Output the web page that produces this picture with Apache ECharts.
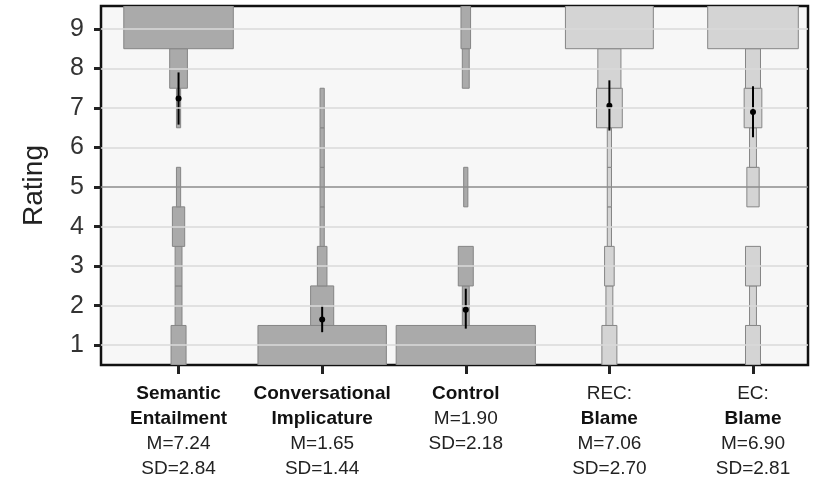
<!DOCTYPE html>
<html>
<head>
<meta charset="utf-8">
<script src="https://cdn.jsdelivr.net/npm/echarts@6/dist/echarts.min.js"></script>
<style>html,body{margin:0;padding:0;background:#fff;}#c{width:815px;height:479px;}</style>
</head>
<body>
<div id="c"></div>
<script>
// ---- data ----
const ratings = [1, 2, 3, 4, 5, 6, 7, 8, 9];
const namePrefix = ['', '', '', 'REC:', 'EC:'];
const categories = ['Semantic\nEntailment', 'Conversational\nImplicature', 'Control', 'Blame', 'Blame'];
const means = [7.24, 1.65, 1.90, 7.06, 6.90];
const sds = [2.84, 1.44, 2.18, 2.70, 2.81];
const ciLow = [6.58, 1.33, 1.42, 6.43, 6.26];
const ciHigh = [7.90, 2.00, 2.43, 7.70, 7.55];
// counts of responses at rating 1..9 for each condition
const countsSE = [5, 2, 2, 4, 1, 0, 1, 6, 40];
const countsCI = [47, 8, 3, 1, 1, 1, 1, 0, 0];
const countsControl = [51, 2, 5, 0, 1, 0, 0, 2, 3];
const countsREC = [5, 2, 3, 1, 1, 1, 9, 8, 32];
const countsEC = [5, 2, 5, 0, 4, 2, 6, 5, 33];
const yTicks = [1, 2, 3, 4, 5, 6, 7, 8, 9];

// ---- build ----
const allCounts = [countsSE, countsCI, countsControl, countsREC, countsEC];
const fills = ['#aaaaaa', '#aaaaaa', '#aaaaaa', '#d4d4d4', '#d4d4d4'];
const X_MIN = 0.46, X_MAX = 5.383, Y_MIN = 0.5, Y_MAX = 9.58;
const UNIT = 2.7 / 143.6; // x-axis units per response
const PAD = 1.5; // extra outline padding in px

const barData = [];
allCounts.forEach((arr, g) => {
  arr.forEach((c, i) => { if (c > 0) barData.push([g + 1, ratings[i], c, g]); });
});
const errData = means.map((m, g) => [g + 1, m, ciLow[g], ciHigh[g]]);

const chart = echarts.init(document.getElementById('c'), null, {renderer: 'canvas'});
const font = '"Liberation Sans", Arial, sans-serif';

chart.setOption({
  backgroundColor: '#ffffff',
  animation: false,
  grid: {left: 101, top: 6, width: 707, height: 359, show: true, backgroundColor: '#f7f7f7', borderColor: '#111', borderWidth: 2.5, containLabel: false},
  xAxis: {
    type: 'value', min: X_MIN, max: X_MAX,
    axisLine: {show: false},
    splitLine: {show: false},
    axisTick: {show: true, customValues: [1, 2, 3, 4, 5], length: 9, lineStyle: {color: '#222', width: 3}},
    axisLabel: {
      show: true, customValues: [1, 2, 3, 4, 5], margin: 16,
      formatter: function (v) {
        const g = Math.round(v) - 1;
        let s = '';
        if (namePrefix[g]) s += '{r|' + namePrefix[g] + '}\n';
        s += categories[g].split('\n').map(t => '{b|' + t + '}').join('\n');
        s += '\n{r|M=' + means[g].toFixed(2) + '}\n{r|SD=' + sds[g].toFixed(2) + '}';
        return s;
      },
      rich: {
        b: {fontFamily: font, fontSize: 19, fontWeight: 'bold', color: '#111', lineHeight: 25, align: 'center'},
        r: {fontFamily: font, fontSize: 19, color: '#222', lineHeight: 25, align: 'center'}
      }
    }
  },
  yAxis: {
    type: 'value', min: Y_MIN, max: Y_MAX,
    name: 'Rating', nameLocation: 'middle', nameRotate: 90, nameGap: 53,
    nameTextStyle: {fontFamily: font, fontSize: 28, color: '#222'},
    axisLine: {show: false},
    splitLine: {show: false},
    axisTick: {show: true, customValues: yTicks, length: 7, lineStyle: {color: '#222', width: 3}},
    axisLabel: {show: true, customValues: yTicks, margin: 17, fontFamily: font, fontSize: 25, color: '#333'}
  },
  series: [
    {
      type: 'line', data: [], z: 1, silent: true,
      markLine: {
        silent: true, symbol: 'none', label: {show: false}, animation: false,
        data: yTicks.map(v => ({yAxis: v, lineStyle: {color: v === 5 ? '#8c8c8c' : '#dadada', width: 1.5, type: 'solid'}}))
      }
    },
    {
      type: 'custom', z: 2, silent: true, clip: true,
      data: barData,
      renderItem: function (params, api) {
        const x = api.value(0), r = api.value(1), c = api.value(2), g = api.value(3);
        const top = r === ratings[ratings.length - 1] ? Y_MAX : r + 0.5;
        const p1 = api.coord([x, top]);
        const p0 = api.coord([x, r - 0.5]);
        const w = api.size([c * UNIT, 0])[0] + PAD;
        return {
          type: 'rect',
          shape: {x: p1[0] - w / 2, y: p1[1], width: w, height: p0[1] - p1[1]},
          style: {fill: fills[g], stroke: '#858585', lineWidth: 1}
        };
      }
    },
    {
      type: 'custom', z: 3, silent: true,
      data: errData,
      renderItem: function (params, api) {
        const x = api.value(0);
        const pm = api.coord([x, api.value(1)]);
        const pl = api.coord([x, api.value(2)]);
        const ph = api.coord([x, api.value(3)]);
        return {
          type: 'group',
          children: [
            {type: 'line', shape: {x1: pl[0], y1: pl[1], x2: ph[0], y2: ph[1]}, style: {stroke: '#000', lineWidth: 2}},
            {type: 'circle', shape: {cx: pm[0], cy: pm[1], r: 3}, style: {fill: '#000'}}
          ]
        };
      }
    }
  ]
});
</script>
</body>
</html>
